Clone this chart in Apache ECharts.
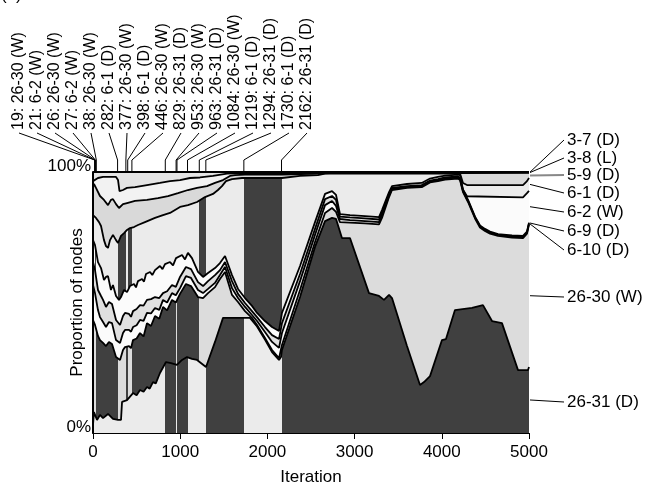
<!DOCTYPE html>
<html>
<head>
<meta charset="utf-8">
<script src="https://cdn.jsdelivr.net/npm/echarts@6/dist/echarts.min.js"></script>
<style>html,body{margin:0;padding:0;background:#fff}#c{width:645px;height:492px}</style>
</head>
<body>
<div id="c"></div>
<script>
// ---------------- DATA ----------------
// Moves, stacked bottom -> top
const moves = ['26-31 (D)', '26-30 (W)', '6-10 (D)', '6-9 (D)', '6-2 (W)', '6-1 (D)', '5-9 (D)', '3-8 (L)', '3-7 (D)'];

// Iterations at which the best move changed, and the new best move
const changeIters = [19, 21, 26, 27, 38, 282, 377, 398, 446, 829, 953, 963, 1084, 1219, 1294, 1730, 2162];
const bestMoves = ['26-30 (W)', '6-2 (W)', '26-30 (W)', '6-2 (W)', '26-30 (W)', '6-1 (D)', '26-30 (W)', '6-1 (D)', '26-30 (W)',
  '26-31 (D)', '26-30 (W)', '26-31 (D)', '26-30 (W)', '6-1 (D)', '26-31 (D)', '6-1 (D)', '26-31 (D)'];

const lastIter = 5000;

// Iteration spans in which each move's band is shaded dark (as seen in the figure)
const shaded_26_31 = [[829, 953], [963, 1084], [1294, 1730], [2162, 5001]];
const shaded_26_30 = [[19, 21], [26, 27], [38, 282], [377, 398], [446, 953], [963, 1219]];
const shaded_6_2 = [[21, 26], [27, 38]];
const shaded_6_1 = [[282, 377], [398, 446], [1219, 1294], [1730, 2162]];

// Cumulative proportion (%) of nodes up to and including each move: [iteration, %]
const cum_26_31 = [[0,3.1],[11,8.0],[46,5.0],[80,6.9],[115,5.7],[172,7.3],[229,5.4],[287,5.0],[321,5.0],[333,11.9],[390,12.6],[459,15.3],[500,14.5],[539,16.5],[580,15.8],[619,17.6],[650,17.0],[688,19.5],[720,19.0],[768,23.0],[837,27.2],[895,26.8],[963,26.1],[1021,28.0],[1078,29.1],[1135,28.4],[1193,28.0],[1296,25.3],[1399,34.9],[1491,44.1],[1800,44.1],[1881,40.8],[1972,35.8],[2053,31.0],[2133,28.0],[2156,29.1],[2167,31.8],[2374,52.1],[2546,71.3],[2661,81.2],[2741,82.4],[2787,82.0],[2855,74.7],[2947,74.7],[3165,53.6],[3280,52.5],[3337,51.0],[3395,52.9],[3429,51.7],[3601,33.3],[3750,18.4],[3796,19.5],[3865,21.8],[4002,35.6],[4048,36.0],[4151,47.1],[4346,47.9],[4472,49.0],[4576,42.9],[4690,42.1],[4874,24.1],[4989,24.1],[5000,25.3]];

const cum_26_30 = [[0,43.3],[23,41.4],[57,37.2],[80,35.6],[115,34.5],[149,33.3],[183,34.9],[218,34.1],[264,29.1],[310,28.0],[344,31.8],[367,32.9],[413,33.3],[436,32.5],[459,35.6],[500,36.2],[539,38.3],[580,37.0],[619,42.1],[665,41.0],[711,44.8],[760,43.8],[803,48.3],[850,47.0],[906,51.0],[950,50.0],[998,53.3],[1066,57.1],[1124,56.3],[1204,52.1],[1262,51.7],[1319,53.6],[1399,55.9],[1456,59.0],[1514,61.7],[1594,52.9],[1663,50.2],[1743,46.7],[1823,44.1],[1881,41.4],[1972,36.4],[2053,31.8],[2133,28.7],[2167,33.7],[2374,54.8],[2546,73.2],[2661,84.3],[2741,86.2],[2787,84.7],[2832,80.8],[2947,80.6],[3119,80.3],[3280,79.9],[3314,82.4],[3395,90.4],[3429,93.1],[3601,93.9],[3770,94.2],[3865,96.0],[3956,96.5],[4037,97.1],[4186,97.5],[4209,96.9],[4243,92.3],[4301,88.5],[4381,82.2],[4438,78.7],[4495,77.4],[4553,76.4],[4645,75.5],[4805,74.9],[4931,74.7],[4977,76.4],[5000,79.9]];

const cum_6_10 = [[0,56.7],[23,53.6],[57,47.1],[80,44.4],[115,42.5],[149,40.6],[183,42.5],[218,42.1],[264,35.6],[310,34.5],[344,38.3],[367,39.5],[413,39.5],[436,38.8],[459,40.6],[500,41.3],[539,43.3],[580,43.0],[619,46.0],[665,45.8],[711,47.9],[760,47.2],[803,51.0],[850,50.0],[906,53.6],[950,52.8],[998,55.5],[1066,60.1],[1124,59.4],[1204,54.8],[1262,53.6],[1319,55.2],[1399,57.5],[1456,60.5],[1514,63.6],[1594,55.5],[1663,51.7],[1743,48.3],[1823,45.2],[1881,42.9],[1972,38.7],[2053,34.9],[2133,32.6],[2167,38.3],[2374,58.2],[2546,75.9],[2661,87.3],[2741,88.9],[2787,87.0],[2832,82.0],[2947,81.6],[3119,81.2],[3280,80.8],[3314,83.5],[3395,91.0],[3429,93.5],[3601,94.2],[3770,94.6],[3865,96.3],[3956,96.9],[4037,97.5],[4186,97.9],[4209,97.3],[4243,92.7],[4301,88.9],[4381,82.6],[4438,79.2],[4495,77.8],[4553,76.8],[4645,75.9],[4805,75.3],[4931,75.1],[4977,76.8],[5000,80.3]];

const cum_6_9 = [[0,65.5],[23,62.4],[57,54.8],[92,52.5],[115,51.0],[149,48.3],[183,50.2],[218,49.4],[264,43.3],[310,41.4],[344,44.8],[367,46.0],[413,45.6],[436,44.5],[459,46.7],[500,47.5],[539,49.0],[580,48.8],[619,51.0],[665,51.3],[711,52.1],[760,51.7],[803,53.6],[850,54.3],[906,56.7],[950,56.0],[998,59.8],[1066,63.6],[1124,62.8],[1204,57.8],[1262,56.3],[1319,58.2],[1399,60.5],[1456,62.4],[1514,65.5],[1594,58.2],[1663,53.3],[1743,49.8],[1823,46.7],[1881,44.4],[1972,40.6],[2053,37.5],[2133,36.0],[2167,42.1],[2374,60.9],[2546,78.2],[2661,89.6],[2741,90.8],[2787,89.3],[2832,82.9],[2947,82.6],[3119,82.2],[3280,81.8],[3314,84.5],[3395,91.6],[3429,93.9],[3601,94.6],[3770,95.0],[3865,96.7],[3956,97.3],[4037,97.9],[4186,98.3],[4209,97.7],[4243,93.1],[4301,89.3],[4381,82.9],[4438,79.5],[4495,78.2],[4553,77.2],[4645,76.2],[4805,75.7],[4931,75.5],[4977,77.2],[5000,80.6]];

const cum_6_2 = [[0,73.9],[23,72.0],[57,65.5],[92,63.2],[126,58.6],[149,59.8],[172,60.1],[206,54.8],[229,56.7],[264,52.5],[298,51.0],[321,52.1],[356,54.8],[390,54.0],[424,56.3],[470,57.1],[493,55.8],[516,58.2],[562,59.0],[585,58.0],[608,60.9],[654,61.7],[680,60.5],[711,62.4],[768,64.0],[797,62.8],[826,64.7],[883,65.5],[918,64.2],[952,67.0],[1021,68.2],[1055,66.5],[1089,69.0],[1135,67.0],[1204,61.7],[1262,59.8],[1319,61.3],[1399,63.2],[1456,65.1],[1514,67.8],[1594,60.5],[1663,55.2],[1743,51.7],[1823,48.7],[1881,46.0],[1972,42.9],[2053,40.6],[2133,39.1],[2167,46.0],[2374,64.0],[2546,80.8],[2661,91.6],[2741,92.7],[2787,91.2],[2832,83.9],[2947,83.5],[3119,83.1],[3280,82.7],[3314,85.4],[3395,92.3],[3429,94.6],[3601,95.4],[3770,95.8],[3865,97.5],[3956,98.1],[4037,98.6],[4186,99.0],[4209,98.8],[4243,93.2],[4289,90.7],[4931,90.3],[4977,91.9],[5000,92.8]];

const cum_6_1 = [[0,83.5],[34,82.4],[69,80.8],[92,79.3],[126,73.9],[149,71.6],[172,70.9],[195,73.9],[229,75.9],[264,73.9],[287,72.8],[321,75.5],[356,76.6],[390,77.8],[424,78.5],[470,78.9],[516,79.7],[596,80.8],[711,82.4],[803,83.5],[883,84.3],[998,86.6],[1089,87.3],[1193,88.5],[1284,90.4],[1376,91.6],[1433,93.1],[1479,94.6],[1525,96.5],[1594,97.3],[1709,97.7],[2167,97.7],[2374,98.5],[2580,98.8],[2661,99.4],[4209,99.4],[4243,95.8],[4289,95.0],[4931,95.0],[4977,96.5],[5000,97.7]];

const cum_5_9 = [[0,94.6],[11,95.4],[34,93.9],[80,90.8],[126,89.3],[172,87.3],[206,89.3],[229,89.6],[264,87.7],[298,86.2],[344,87.7],[390,88.1],[482,88.9],[619,89.3],[745,90.0],[860,90.8],[975,91.9],[1089,93.1],[1193,93.9],[1307,94.6],[1399,95.8],[1491,96.9],[1571,98.5],[1628,98.8],[1743,99.0],[2167,99.0],[2603,99.4],[2718,99.6],[4209,99.6],[5000,99.7]];

const cum_3_8 = [[0,96.5],[11,96.5],[57,97.7],[115,98.1],[195,98.1],[264,98.1],[287,96.9],[304,92.7],[344,93.1],[390,93.9],[482,94.2],[619,95.0],[768,95.8],[883,96.5],[998,96.9],[1112,97.7],[1227,97.9],[1376,98.5],[1537,99.4],[1686,99.6],[2374,99.6],[2718,99.8],[5000,99.9]];

const cum_3_7 = [[0,100],[5000,100]];

// ---------------- STYLE / LAYOUT ----------------
const FONT = '"Liberation Sans", Arial, Helvetica, sans-serif';
const DARK = '#404040';
const fills = {
  '26-31 (D)': '#ebebeb', '26-30 (W)': '#dcdcdc', '6-10 (D)': '#fbfbfb', '6-9 (D)': '#e0e0e0',
  '6-2 (W)': '#fbfbfb', '6-1 (D)': '#ebebeb', '5-9 (D)': '#d9d9d9', '3-8 (L)': '#f2f2f2', '3-7 (D)': '#e4e4e4'
};
const rightLabelY = {
  '3-7 (D)': 140, '3-8 (L)': 158, '5-9 (D)': 175, '6-1 (D)': 193, '6-2 (W)': 212,
  '6-9 (D)': 231, '6-10 (D)': 250, '26-30 (W)': 297, '26-31 (D)': 402
};
const rightLabelX = 567;
const topLabelX0 = 19, topLabelStep = 18, topLabelBase = 130, topLeadY0 = 133, topLeadY1 = 160;

const cumByMove = {
  '26-31 (D)': cum_26_31, '26-30 (W)': cum_26_30, '6-10 (D)': cum_6_10, '6-9 (D)': cum_6_9,
  '6-2 (W)': cum_6_2, '6-1 (D)': cum_6_1, '5-9 (D)': cum_5_9, '3-8 (L)': cum_3_8, '3-7 (D)': cum_3_7
};
const shadedByMove = {
  '26-31 (D)': shaded_26_31, '26-30 (W)': shaded_26_30, '6-2 (W)': shaded_6_2, '6-1 (D)': shaded_6_1
};

const drawOrder = moves.slice().reverse(); // top of stack drawn first
const series = drawOrder.map(m => ({
  name: m,
  type: 'line',
  data: cumByMove[m],
  showSymbol: false,
  symbol: 'none',
  silent: true,
  lineStyle: { color: '#000', width: m === '3-7 (D)' ? 2 : 1.8, join: 'bevel' },
  areaStyle: shadedByMove[m] ? { opacity: 1 } : { color: fills[m], opacity: 1 },
  z: 2
}));

const visualMap = [];
drawOrder.forEach((m, idx) => {
  if (!shadedByMove[m]) return;
  visualMap.push({
    type: 'piecewise', show: false, dimension: 0, seriesIndex: idx,
    pieces: shadedByMove[m].map(([a, b]) => ({ gte: a, lt: b, color: DARK })),
    outOfRange: { color: fills[m] }
  });
});

const chart = echarts.init(document.getElementById('c'), null, { renderer: 'canvas' });
chart.setOption({
  animation: false,
  backgroundColor: '#fff',
  grid: { left: 93, right: 116, top: 172, bottom: 59, containLabel: false, outerBoundsMode: 'none' },
  xAxis: {
    type: 'value', min: 0, max: lastIter, interval: 1000,
    name: 'Iteration', nameLocation: 'middle', nameGap: 36, nameMoveOverlap: false,
    nameTextStyle: { fontSize: 17, color: '#000', fontFamily: FONT },
    axisLine: { show: true, onZero: false, lineStyle: { color: '#000', width: 1 } },
    axisTick: { show: true, length: 6, lineStyle: { color: '#000', width: 1 } },
    axisLabel: { fontSize: 17, color: '#000', fontFamily: FONT, margin: 11, formatter: v => String(v) },
    splitLine: { show: false },
    z: 10
  },
  yAxis: {
    type: 'value', min: 0, max: 100, interval: 100,
    name: 'Proportion of nodes', nameLocation: 'middle', nameGap: 7, nameRotate: 90, nameMoveOverlap: false,
    nameTextStyle: { fontSize: 17, color: '#000', fontFamily: FONT },
    axisLine: { show: true, lineStyle: { color: '#000', width: 2 } },
    axisTick: { show: false },
    axisLabel: { formatter: v => v + '%', fontSize: 17, color: '#000', fontFamily: FONT, margin: 2, verticalAlign: 'bottom', lineHeight: 12 },
    splitLine: { show: false },
    z: 10
  },
  visualMap: visualMap,
  series: series
});

// ---------------- ANNOTATIONS ----------------
const toPx = v => chart.convertToPixel({ gridIndex: 0 }, v);
const plotTop = toPx([0, 100])[1];
const plotRight = toPx([lastIter, 0])[0];
const graphics = [];

graphics.push({ type: 'text', x: 1, y: 4, style: { text: '(a)', fontSize: 17, fontFamily: FONT, fill: '#000', align: 'left', verticalAlign: 'bottom' } });

changeIters.forEach((it, i) => {
  const lx = topLabelX0 + i * topLabelStep;
  const tx = toPx([it, 100])[0];
  graphics.push({
    type: 'text', x: lx, y: topLabelBase, rotation: Math.PI / 2,
    style: { text: it + ': ' + bestMoves[i], fontSize: 16, fontFamily: FONT, fill: '#000', align: 'left', verticalAlign: 'middle' }
  });
  graphics.push({
    type: 'polyline',
    shape: { points: [[lx, topLeadY0], [tx, topLeadY1], [tx, plotTop]] },
    style: { stroke: '#000', lineWidth: 1, fill: null }
  });
});

moves.forEach((m, k) => {
  const arr = cumByMove[m];
  const hi = arr[arr.length - 1][1];
  const lo = k === 0 ? 0 : cumByMove[moves[k - 1]][cumByMove[moves[k - 1]].length - 1][1];
  const ty = toPx([lastIter, (lo + hi) / 2])[1];
  const ly = rightLabelY[m];
  graphics.push({
    type: 'polyline',
    shape: { points: [[plotRight + 1, ty], [rightLabelX - 3, ly]] },
    style: { stroke: m === '5-9 (D)' ? '#888' : '#000', lineWidth: m === '5-9 (D)' ? 2 : 1, fill: null }
  });
  graphics.push({
    type: 'text', x: rightLabelX, y: ly,
    style: { text: m, fontSize: 17, fontFamily: FONT, fill: '#000', align: 'left', verticalAlign: 'middle' }
  });
});

chart.setOption({ graphic: graphics });
</script>
</body>
</html>
